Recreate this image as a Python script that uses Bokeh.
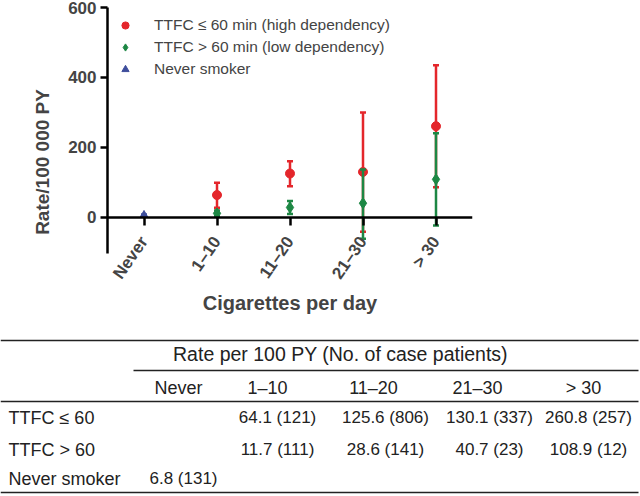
import math
from bokeh.plotting import figure
from bokeh.models import FactorRange, Range1d, Legend, LegendItem, ColumnDataSource
from bokeh.layouts import column
from bokeh.embed import file_html
from bokeh.resources import INLINE
from bokeh.core.properties import value

# ---------------- data ----------------
categories = ["Never", "1–10", "11–20", "21–30", "> 30"]

high_cats = ["1–10", "11–20", "21–30", "> 30"]
high_rate = [64.1, 125.6, 130.1, 260.8]
high_lower = [28, 89, -41, 86]
high_upper = [99, 161, 300, 435]

low_cats = ["1–10", "11–20", "21–30", "> 30"]
low_rate = [11.7, 28.6, 40.7, 108.9]
low_lower = [4, 10, -61, -23]
low_upper = [20, 47, 137, 241]

never_cats = ["Never"]
never_rate = [6.8]
never_lower = [5.5]
never_upper = [8.2]

y_ticks = [0, 200, 400, 600]

legend_labels = ["TTFC ≤ 60 min (high dependency)",
                 "TTFC > 60 min (low dependency)",
                 "Never smoker"]

table_header = "Rate per 100 PY (No. of case patients)"
table_columns = ["Never", "1–10", "11–20", "21–30", "> 30"]
table_row_labels = ["TTFC ≤ 60", "TTFC > 60", "Never smoker"]
table_row_high = ["", "64.1 (121)", "125.6 (806)", "130.1 (337)", "260.8 (257)"]
table_row_low = ["", "11.7 (111)", "28.6 (141)", "40.7 (23)", "108.9 (12)"]
table_row_never = ["6.8 (131)", "", "", "", ""]

# ---------------- styles ----------------
RED = "#e4262b"
GREEN = "#1d8744"
BLUE = "#3e4e9c"
FONT = "Liberation Sans"

# ---------------- chart ----------------
p = figure(width=640, height=316,
           x_range=FactorRange(*categories), y_range=Range1d(-283, 600),
           output_backend="svg", toolbar_location=None,
           min_border_left=107, min_border_right=168,
           min_border_top=7, min_border_bottom=0)
p.frame_align = False
p.outline_line_color = None
p.grid.visible = False
p.background_fill_color = "white"
p.border_fill_color = "white"

# y axis
ya = p.yaxis[0]
ya.ticker = y_ticks
ya.bounds = (-103, 600)
ya.minor_tick_line_color = None
ya.axis_line_width = 2.5
ya.major_tick_line_width = 2.5
ya.major_tick_out = 7
ya.major_tick_in = 0
ya.major_label_text_font = FONT
ya.major_label_text_font_style = "bold"
ya.major_label_text_font_size = "17px"
ya.major_label_standoff = 4
ya.axis_label = "Rate/100 000 PY"
ya.axis_label_text_font = FONT
ya.axis_label_text_font_style = "bold"
ya.axis_label_text_font_size = "19px"
ya.axis_label_standoff = 12

# x axis at y = 0
xa = p.xaxis[0]
xa.fixed_location = 0
xa.axis_line_width = 2.5
xa.major_tick_line_width = 2.5
xa.major_tick_out = 8
xa.major_tick_in = 0
xa.major_label_orientation = math.radians(55)
xa.major_label_text_font = FONT
xa.major_label_text_font_style = "bold"
xa.major_label_text_font_size = "17px"
xa.major_label_standoff = 13
xa.axis_label = "Cigarettes per day"
xa.axis_label_text_font = FONT
xa.axis_label_text_font_style = "bold"
xa.axis_label_text_font_size = "20px"
xa.axis_label_standoff = 1

src_high = ColumnDataSource(dict(x=high_cats, y=high_rate, lo=high_lower, hi=high_upper))
src_low = ColumnDataSource(dict(x=low_cats, y=low_rate, lo=low_lower, hi=low_upper))
src_never = ColumnDataSource(dict(x=never_cats, y=never_rate, lo=never_lower, hi=never_upper))

def draw_series(src, color, marker, size):
    p.segment(x0="x", y0="lo", x1="x", y1="hi", source=src,
              line_color=color, line_width=2.5)
    p.scatter(x="x", y="lo", source=src, marker="dash", size=6,
              line_color=color, line_width=2.5)
    p.scatter(x="x", y="hi", source=src, marker="dash", size=6,
              line_color=color, line_width=2.5)
    return p.scatter(x="x", y="y", source=src, marker=marker, size=size,
                     fill_color=color, line_color=color)

r_high = draw_series(src_high, RED, "circle", 9)
r_low = draw_series(src_low, GREEN, "diamond", 11)
r_never = draw_series(src_never, BLUE, "triangle", 8)

legend = Legend(items=[LegendItem(label=legend_labels[0], renderers=[r_high]),
                       LegendItem(label=legend_labels[1], renderers=[r_low]),
                       LegendItem(label=legend_labels[2], renderers=[r_never])],
                location="top_left", margin=9, padding=0,
                glyph_width=18, glyph_height=18, label_height=18,
                spacing=4, label_standoff=20,
                label_text_font=FONT, label_text_font_size="15.5px",
                border_line_color=None, background_fill_alpha=0)
p.add_layout(legend)

# ---------------- table ----------------
t = figure(width=640, height=180,
           x_range=Range1d(0, 640), y_range=Range1d(180, 0),
           output_backend="svg", toolbar_location=None,
           min_border=0, x_axis_location=None, y_axis_location=None)
t.frame_align = False
t.outline_line_color = None
t.grid.visible = False
t.background_fill_color = "white"
t.border_fill_color = "white"

# horizontal rules
t.segment(x0=[0, 133, 0, 0], y0=[24, 54, 85, 176],
          x1=[638, 638, 638, 638], y1=[24, 54, 85, 176],
          line_color="#222222", line_width=1.6)

tfont = dict(text_font=value(FONT), text_color="#222222", text_baseline="middle")

t.text(x=[340], y=[37], text=[table_header], text_align="center",
       text_font_size="19.5px", **tfont)

header_x = [178, 267, 373, 477, 583]
t.text(x=header_x, y=[71] * 5, text=table_columns, text_align="center",
       text_font_size="18px", **tfont)

row_y = [101, 133, 162]
t.text(x=[8, 8, 8], y=row_y, text=table_row_labels, text_align="left",
       text_font_size="18px", **tfont)

value_x = [183, 277, 385, 489, 588]
for vals, yy in zip([table_row_high, table_row_low, table_row_never], row_y):
    t.text(x=value_x, y=[yy] * 5, text=vals, text_align="center",
           text_font_size="17px", **tfont)

layout = column(p, t, spacing=0)
open("out.html", "w").write(file_html(layout, INLINE))
